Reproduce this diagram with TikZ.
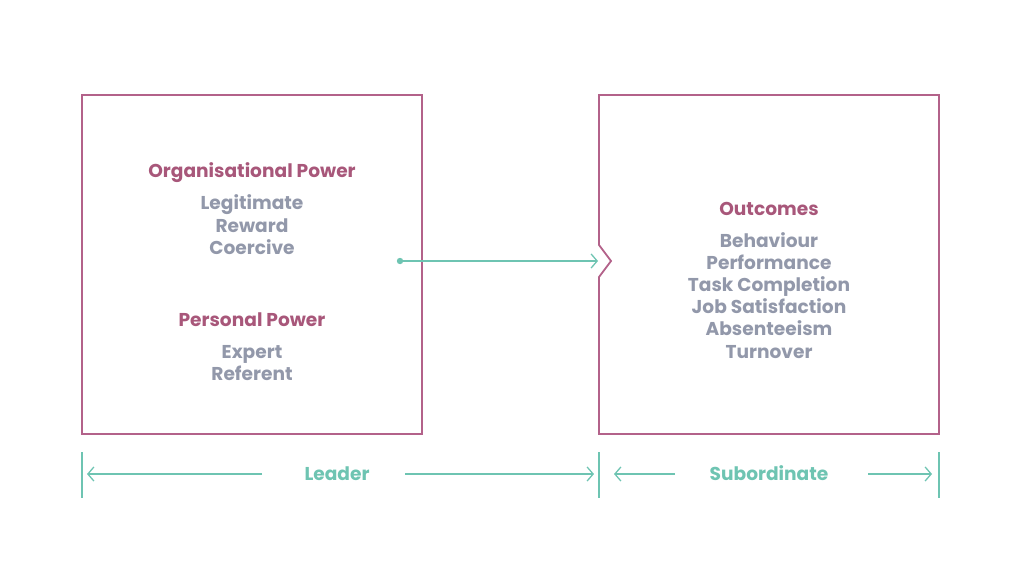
\documentclass[tikz,border=0pt]{standalone}
\usepackage{fontspec}
\setmainfont{Poppins}
\usetikzlibrary{arrows.meta}
\definecolor{mag}{HTML}{B3628A}
\definecolor{magtxt}{HTML}{A8577A}
\definecolor{gry}{HTML}{9298AA}
\definecolor{teal}{HTML}{6EC4B2}
\tikzset{
  fnt/.style={font=\fontsize{18.6}{22}\selectfont\bfseries, text height=13pt, text depth=0pt},
  boxline/.style={draw=mag, line width=1.8pt},
  title/.style={fnt, text=magtxt, anchor=center, inner sep=0pt},
  item/.style={fnt, text=gry, anchor=center, inner sep=0pt},
  lab/.style={fnt, text=teal, anchor=center, inner sep=0pt},
  conn/.style={draw=teal, line width=1.3pt, -{Straight Barb[length=6pt,width=14pt,line width=1.3pt]}},
  bar/.style={draw=teal, line width=1.3pt}
}
\begin{document}
\begin{tikzpicture}[x=1pt,y=-1pt]
\useasboundingbox (0,0) rectangle (1024,582);
% boxes
\draw[boxline] (82,95) rectangle (422,434);
\draw[boxline] (599,245) -- (599,95) -- (939,95) -- (939,434) -- (599,434) -- (599,277) -- (611,261) -- cycle;
\coordinate (notch) at (598,261);
% left texts
\node[title] (op) at (252,171) {Organisational Power};
\node[item] (l1) at (252,203) {Legitimate};
\node[item] (l2) at (252,226) {Reward};
\node[item] (l3) at (252,248) {Coercive};
\node[title] (pp) at (252,320) {Personal Power};
\node[item] (p1) at (252,352) {Expert};
\node[item] (p2) at (252,374) {Referent};
% right texts
\node[title] (oc) at (769,209) {Outcomes};
\node[item] (o1) at (769,241) {Behaviour};
\node[item] (o2) at (769,263) {Performance};
\node[item] (o3) at (769,285) {Task Completion};
\node[item] (o4) at (769,307) {Job Satisfaction};
\node[item] (o5) at (769,329) {Absenteeism};
\node[item] (o6) at (769,352) {Turnover};
% connector
\coordinate (dot) at (400,261);
\fill[teal] (dot) circle (3.2);
\draw[conn] (dot) -- (notch);
% bottom
\draw[bar] (82,452) -- (82,498);
\draw[bar] (599,452) -- (599,498);
\draw[bar] (939,452) -- (939,498);
\node[lab] (leader) at (337,474) {Leader};
\node[lab] (sub) at (769,474) {Subordinate};
\coordinate (a1) at (262,474); \coordinate (a2) at (87,474);
\coordinate (a3) at (405,474); \coordinate (a4) at (594,474);
\coordinate (b1) at (675,474); \coordinate (b2) at (614,474);
\coordinate (b3) at (868,474); \coordinate (b4) at (932,474);
\draw[conn] (a1) -- (a2);
\draw[conn] (a3) -- (a4);
\draw[conn] (b1) -- (b2);
\draw[conn] (b3) -- (b4);
\end{tikzpicture}
\end{document}
